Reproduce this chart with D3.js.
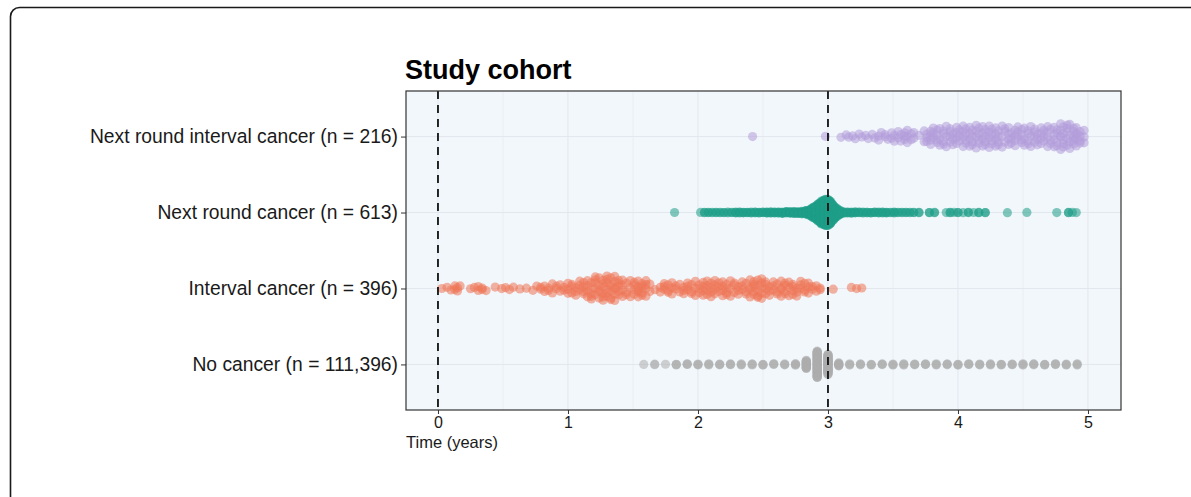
<!DOCTYPE html>
<html>
<head>
<meta charset="utf-8">
<script src="https://cdn.jsdelivr.net/npm/d3@7"></script>
<style>
  body { margin: 0; background: #fff; }
  text { font-family: "Liberation Sans", Arial, Helvetica, sans-serif; }
</style>
</head>
<body>
<script>
// Categories, top to bottom
const categories = [
    "Next round interval cancer (n = 216)",
    "Next round cancer (n = 613)",
    "Interval cancer (n = 396)",
    "No cancer (n = 111,396)"
];
const xTicks = [0, 1, 2, 3, 4, 5];
const minorTicks = [0.5, 1.5, 2.5, 3.5, 4.5];
const screenRounds = [0, 3];

// [time (years), number of points at that time]
const nextRoundInterval = [
    [2.42,1],[2.98,1],[3.1,1],[3.14,1],[3.16,1],[3.19,1],[3.21,1],[3.24,1],[3.26,1],[3.29,1],[3.31,1],
    [3.34,1],[3.36,1],[3.39,2],[3.41,1],[3.44,2],[3.46,1],[3.49,2],[3.51,2],[3.54,2],[3.56,2],
    [3.59,3],[3.61,3],[3.64,2],[3.66,2],[3.7,1],[3.74,2],[3.76,3],[3.79,4],[3.81,3],[3.84,4],[3.86,3],
    [3.89,4],[3.91,3],[3.94,4],[3.96,3],[3.99,4],[4.01,3],[4.04,4],[4.06,4],[4.09,4],[4.11,4],
    [4.14,4],[4.16,4],[4.19,4],[4.21,4],[4.24,4],[4.26,4],[4.29,4],[4.31,4],[4.34,3],[4.36,3],
    [4.39,4],[4.41,3],[4.44,4],[4.46,3],[4.49,4],[4.51,3],[4.54,4],[4.56,3],[4.59,4],[4.61,3],
    [4.64,4],[4.66,3],[4.69,4],[4.71,3],[4.74,4],[4.76,4],[4.79,5],[4.81,5],[4.84,5],[4.86,4],
    [4.89,5],[4.91,5],[4.94,4],[4.97,3]
];

const nextRound = [
    [1.82,1],
    [2.02,1],[2.05,2],[2.08,2],[2.11,2],[2.14,2],[2.17,2],[2.2,2],[2.23,2],[2.26,2],[2.29,3],[2.32,3],
    [2.35,3],[2.38,3],[2.41,3],[2.44,3],[2.47,3],[2.5,3],[2.53,4],[2.56,4],[2.59,4],[2.62,4],[2.65,5],
    [2.68,5],[2.71,6],[2.74,6],[2.77,7],[2.8,8],[2.83,10],
    [2.85,6],[2.86,7],[2.87,8],[2.88,10],[2.89,11],[2.9,13],[2.91,15],[2.92,17],[2.93,20],[2.94,22],
    [2.95,24],[2.96,26],[2.97,27],[2.98,28],[2.99,29],[3.0,29],[3.01,27],[3.02,24],[3.03,21],[3.04,16],
    [3.05,13],[3.06,10],[3.07,8],[3.08,6],[3.09,5],[3.1,4],
    [3.12,4],[3.15,4],[3.18,4],[3.21,4],[3.24,3],[3.27,3],[3.3,3],[3.33,3],[3.36,3],[3.39,3],[3.42,3],
    [3.45,3],[3.48,2],[3.51,3],[3.54,2],[3.57,2],[3.6,2],[3.63,2],[3.66,2],[3.7,2],
    [3.78,2],[3.82,2],[3.91,1],[3.94,2],[3.97,1],[4.0,2],[4.04,1],[4.08,2],[4.12,1],[4.16,2],[4.21,2],
    [4.38,1],[4.53,1],[4.76,1],[4.85,2],[4.88,1],[4.91,1]
];

const intervalCancer = [
    [0.03,1],[0.07,1],[0.1,1],[0.13,2],[0.15,2],[0.17,1],[0.25,1],[0.28,1],[0.31,2],[0.34,2],[0.37,1],
    [0.44,1],[0.49,1],[0.52,1],[0.55,1],[0.58,1],[0.63,1],[0.68,1],
    [0.73,1],[0.76,1],[0.79,2],[0.82,2],[0.85,2],[0.88,2],[0.91,2],[0.94,2],[0.97,2],[1.0,3],
    [1.03,3],[1.06,3],[1.09,3],[1.12,4],[1.15,4],[1.18,5],[1.21,5],[1.24,5],[1.27,6],[1.3,6],[1.33,6],
    [1.36,6],[1.39,5],[1.42,4],[1.45,3],
    [1.48,3],[1.51,4],[1.54,5],[1.57,5],[1.6,4],[1.63,2],[1.67,1],
    [1.71,2],[1.74,3],[1.77,3],[1.8,3],[1.83,2],[1.86,2],[1.89,3],[1.92,3],[1.95,3],[1.98,3],
    [2.01,3],[2.04,4],[2.07,4],[2.1,4],[2.13,4],[2.16,3],[2.19,4],[2.22,4],[2.25,3],[2.28,3],
    [2.31,3],[2.34,3],[2.37,3],[2.4,4],[2.43,5],[2.46,5],[2.49,5],[2.52,4],[2.55,3],[2.58,3],
    [2.61,3],[2.64,4],[2.67,4],[2.7,3],[2.73,4],[2.76,3],[2.79,3],[2.82,3],[2.85,3],[2.88,2],[2.91,2],
    [2.94,2],[3.04,1],[3.18,1],[3.22,1],[3.26,1]
];

// follow-up recorded by month
const noCancer = [
    [1.583,1],[1.667,2],[1.75,1],[1.833,3],[1.917,3],[2,3],[2.083,3],[2.167,3],[2.25,3],[2.333,3],
    [2.417,3],[2.5,3],[2.583,3],[2.667,3],[2.75,4],[2.833,20],[2.917,60],[3,45],[3.083,8],[3.167,3],
    [3.25,3],[3.333,3],[3.417,3],[3.5,3],[3.583,3],[3.667,3],[3.75,3],[3.833,3],[3.917,3],[4,3],
    [4.083,3],[4.167,3],[4.25,3],[4.333,3],[4.417,3],[4.5,3],[4.583,3],[4.667,3],[4.75,3],[4.833,3],
    [4.917,3]
];

const groups = [
    { cat: categories[3], data: noCancer, color: "#adadad", bw: 0.01 },
    { cat: categories[2], data: intervalCancer, color: "#ef7757", bw: 0.05 },
    { cat: categories[1], data: nextRound, color: "#1f9e89", bw: 0.015 },
    { cat: categories[0], data: nextRoundInterval, color: "#b39ddb", bw: 0.06 }
];

// Page frame and panel
const W = 1191, H = 497;
const panel = { left: 406, right: 1121, top: 91, bottom: 410 };
const radius = 4.6;
const halfWidth = 13.5;  // largest vertical spread of a swarm

const svg = d3.select("body").append("svg")
    .attr("width", W)
    .attr("height", H);

svg.append("rect")
    .attr("x", 10.5).attr("y", 7.5)
    .attr("width", 1400).attr("height", 800)
    .attr("rx", 9)
    .attr("fill", "none")
    .attr("stroke", "#1a1a1a")
    .attr("stroke-width", 1.6);

const x = d3.scaleLinear()
    .domain([-0.246, 5.254])
    .range([panel.left, panel.right]);

const y = d3.scalePoint()
    .domain(categories)
    .range([panel.top, panel.bottom])
    .padding(0.6);

svg.append("rect")
    .attr("x", panel.left).attr("y", panel.top)
    .attr("width", panel.right - panel.left)
    .attr("height", panel.bottom - panel.top)
    .attr("fill", "#f2f7fb");

// Grid
svg.append("g").selectAll("line")
    .data(minorTicks)
    .join("line")
    .attr("x1", d => x(d)).attr("x2", d => x(d))
    .attr("y1", panel.top).attr("y2", panel.bottom)
    .attr("stroke", "#e7ecf1").attr("stroke-width", 0.7);

svg.append("g").selectAll("line")
    .data(xTicks)
    .join("line")
    .attr("x1", d => x(d)).attr("x2", d => x(d))
    .attr("y1", panel.top).attr("y2", panel.bottom)
    .attr("stroke", "#e2e7ed").attr("stroke-width", 1);

svg.append("g").selectAll("line")
    .data(categories)
    .join("line")
    .attr("x1", panel.left).attr("x2", panel.right)
    .attr("y1", d => y(d)).attr("y2", d => y(d))
    .attr("stroke", "#e2e7ed").attr("stroke-width", 1);

// Van der Corput sequence, base 2
const vdc = (n) => {
    let v = 0, denom = 1;
    while (n > 0) {
        denom *= 2;
        v += (n % 2) / denom;
        n = Math.floor(n / 2);
    }
    return v;
}

// Quasirandom offsets, spread scaled by the group's density
const points = [];
groups.forEach((g) => {
    const vals = [];
    g.data.forEach(([t, c]) => { for (let k = 0; k < c; k++) vals.push(t); });
    const kde = (t) => d3.sum(g.data, ([u, c]) => c * Math.exp(-0.5 * ((t - u) / g.bw) ** 2));
    const dens = vals.map(kde);
    const maxDens = d3.max(dens);
    vals.forEach((t, i) => {
        const off = (vdc(i + 1) - 0.5) * 2 * halfWidth * dens[i] / maxDens;
        points.push({ t: t, cy: y(g.cat) + off, color: g.color });
    });
});

svg.append("g").selectAll("circle")
    .data(points)
    .join("circle")
    .attr("cx", d => x(d.t))
    .attr("cy", d => d.cy)
    .attr("r", radius)
    .attr("fill", d => d.color)
    .attr("fill-opacity", 0.55);

// Dashed reference lines
svg.append("g").selectAll("line")
    .data(screenRounds)
    .join("line")
    .attr("x1", d => x(d)).attr("x2", d => x(d))
    .attr("y1", panel.top).attr("y2", panel.bottom)
    .attr("stroke", "#111")
    .attr("stroke-width", 1.8)
    .attr("stroke-dasharray", "8,6");

svg.append("rect")
    .attr("x", panel.left).attr("y", panel.top)
    .attr("width", panel.right - panel.left)
    .attr("height", panel.bottom - panel.top)
    .attr("fill", "none")
    .attr("stroke", "#333")
    .attr("stroke-width", 1.2);

// Axes
const xAxis = svg.append("g")
    .attr("transform", `translate(0,${panel.bottom})`)
    .call(d3.axisBottom(x).tickValues(xTicks).tickFormat(d3.format("d")).tickSize(4).tickPadding(3));
xAxis.select(".domain").remove();
xAxis.selectAll("line").attr("stroke", "#333");
xAxis.selectAll("text")
    .attr("font-size", 16)
    .attr("fill", "#1a1a1a");

const yAxis = svg.append("g")
    .attr("transform", `translate(${panel.left},0)`)
    .call(d3.axisLeft(y).tickSize(5).tickPadding(3));
yAxis.select(".domain").remove();
yAxis.selectAll("line").attr("stroke", "#333");
yAxis.selectAll("text")
    .attr("font-size", 19.3)
    .attr("fill", "#1a1a1a");

svg.append("text")
    .attr("x", panel.left)
    .attr("y", 448)
    .attr("font-size", 16.5)
    .attr("fill", "#1a1a1a")
    .text("Time (years)");

svg.append("text")
    .attr("x", panel.left - 1)
    .attr("y", 79)
    .attr("font-size", 27)
    .attr("font-weight", "bold")
    .attr("fill", "#000")
    .text("Study cohort");
</script>
</body>
</html>
